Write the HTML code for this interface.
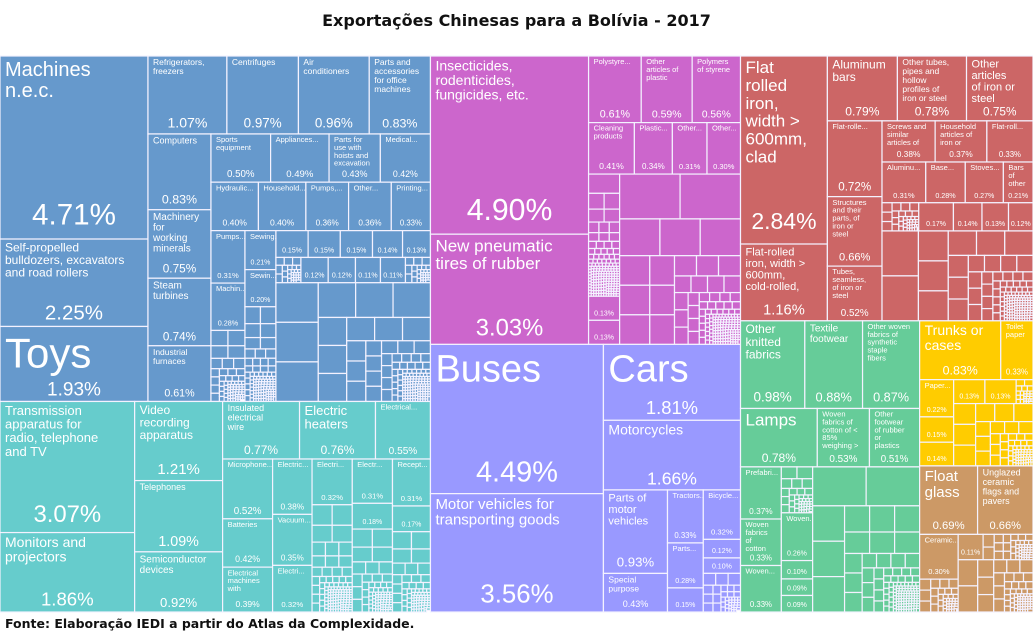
<!DOCTYPE html>
<html><head><meta charset="utf-8"><style>
html,body{margin:0;padding:0;background:#fff;}
body{width:1033px;height:635px;overflow:hidden;position:relative;font-family:"Liberation Sans",sans-serif;}
#title{position:absolute;left:0;top:11px;width:1033px;text-align:center;font-size:16px;font-weight:bold;color:#111;font-family:"DejaVu Sans","Liberation Sans",sans-serif;}
#source{position:absolute;left:5px;top:616px;font-size:12.5px;font-weight:bold;color:#111;font-family:"DejaVu Sans","Liberation Sans",sans-serif;}
svg{position:absolute;left:0;top:0;}
</style></head><body>
<div id="title">Exportações Chinesas para a Bolívia - 2017</div>
<svg id="tm" width="1033" height="635"></svg>
<div id="source">Fonte: Elaboração IEDI a partir do Atlas da Complexidade.</div>
<script>
// ---- data (values = share of exports, %) ----
const L=(n,v)=>({n:n,v:v});
const F=(v)=>({f:true,v:v});
const R=(...c)=>({d:'r',c:c});
const C=(...c)=>({d:'c',c:c});

const blueTree = R(
  C(L('Machines n.e.c.',4.71),L('Self-propelled bulldozers, excavators and road rollers',2.25),L('Toys',1.93)),
  C(R(L('Refrigerators, freezers',1.07),L('Centrifuges',0.97),L('Air conditioners',0.96),L('Parts and accessories for office machines',0.83)),
    R(C(L('Computers',0.83),L('Machinery for working minerals',0.75),L('Steam turbines',0.74),L('Industrial furnaces',0.61)),
      C(R(L('Sports equipment',0.50),L('Appliances...',0.49),L('Parts for use with hoists and excavation machinery',0.43),L('Medical...',0.42)),
        R(L('Hydraulic...',0.40),L('Household...',0.40),L('Pumps,...',0.36),L('Other...',0.36),L('Printing...',0.33)),
        R(C(L('Pumps...',0.31),L('Machin...',0.28),F(0.42)),
          C(L('Sewing...',0.21),L('Sewin...',0.20),F(0.51)),
          C(R(L('',0.15),L('',0.15),L('',0.15),L('',0.14),L('',0.13)),
            R(F(0.11),L('',0.12),L('',0.12),L('',0.11),L('',0.11),F(0.11)),
            F(3.19)))))));
const tealTree = R(
  C(L('Transmission apparatus for radio, telephone and TV',3.07),L('Monitors and projectors',1.86)),
  C(L('Video recording apparatus',1.21),L('Telephones',1.09),L('Semiconductor devices',0.92)),
  C(R(L('Insulated electrical wire',0.77),L('Electric heaters',0.76),L('Electrical...',0.55)),
    R(C(L('Microphone...',0.52),L('Batteries',0.42),L('Electrical machines with individua...',0.39)),
      C(L('Electric...',0.38),L('Vacuum...',0.35),L('Electri...',0.32)),
      R(C(L('Electri...',0.32),F(0.75)),C(L('Electr...',0.31),L('',0.18),F(0.58)),C(L('Recept...',0.31),L('',0.17),F(0.53))))));
const magTree = R(
  C(L('Insecticides, rodenticides, fungicides, etc.',4.90),L('New pneumatic tires of rubber',3.03)),
  C(R(L('Polystyre...',0.61),L('Other articles of plastic',0.59),L('Polymers of styrene',0.56)),
    R(L('Cleaning products',0.41),L('Plastic...',0.34),L('Other...',0.31),L('Other...',0.30)),
    R(C(F(0.66),L('',0.13),L('',0.13)),F(3.58))));
const lavTree = R(
  C(L('Buses',4.49),L('Motor vehicles for transporting goods',3.56)),
  C(L('Cars',1.81),L('Motorcycles',1.66),
    R(C(L('Parts of motor vehicles',0.93),L('Special purpose motor vehicles',0.43)),
      C(L('Tractors...',0.33),L('Parts...',0.28),L('',0.15)),
      C(L('Bicycle...',0.32),L('',0.12),L('',0.10),F(0.25)))));
const redTree = R(
  C(L('Flat rolled iron, width > 600mm, clad',2.84),L('Flat-rolled iron, width > 600mm, cold-rolled, not clad',1.16)),
  C(R(L('Aluminum bars',0.79),L('Other tubes, pipes and hollow profiles of iron or steel',0.78),L('Other articles of iron or steel',0.75)),
    R(C(L('Flat-rolle...',0.72),L('Structures and their parts, of iron or steel',0.66),L('Tubes, seamless, of iron or steel',0.52)),
      C(R(L('Screws and similar articles of iron o...',0.38),L('Household articles of iron or steel',0.37),L('Flat-roll...',0.33)),
        R(L('Aluminu...',0.31),L('Base...',0.28),L('Stoves...',0.27),L('Bars of other alloy steel',0.21)),
        R(F(0.18),L('',0.17),L('',0.14),L('',0.13),L('',0.12)),
        F(2.36)))));
const greenTree = C(
  R(L('Other knitted fabrics',0.98),L('Textile footwear',0.88),L('Other woven fabrics of synthetic staple fibers',0.87)),
  R(L('Lamps',0.78),L('Woven fabrics of cotton of < 85% weighing > 200 g/m2',0.53),L('Other footwear of rubber or plastics',0.51)),
  R(C(L('Prefabri...',0.37),L('Woven fabrics of cotton of < 85...',0.33),L('Woven...',0.33)),
    C(F(0.25),L('Woven...',0.26),L('',0.10),L('',0.09),L('',0.09)),
    F(2.70)));
const yellowTree = C(
  R(L('Trunks or cases',0.83),L('Toilet paper',0.33)),
  R(C(L('Paper...',0.22),L('',0.15),L('',0.14)),
    C(R(L('',0.13),L('',0.13),F(0.07)),F(0.86))));
const brownTree = C(
  R(L('Float glass',0.69),L('Unglazed ceramic flags and pavers',0.66)),
  R(C(L('Ceramic...',0.30),F(0.22)),C(R(L('',0.11),F(0.22)),F(0.68))));

const regions = [
  {t:blueTree, col:'#6699cc', name:'machinery'},
  {t:tealTree, col:'#66cccc', name:'electronics'},
  {t:magTree, col:'#cc66cc', name:'chemicals-plastics'},
  {t:lavTree, col:'#9999ff', name:'vehicles'},
  {t:redTree, col:'#cc6666', name:'metals'},
  {t:greenTree, col:'#66cc99', name:'textiles'},
  {t:yellowTree, col:'#ffcc00', name:'miscellaneous'},
  {t:brownTree, col:'#cc9966', name:'stone-glass'}
];
// top-level arrangement of regions
const sectorLayout = R(C(0,1),C(2,3),C(4,R(5,C(6,7))));

const nameSize={'Machines n.e.c.':20,'Toys':42,'Insecticides, rodenticides, fungicides, etc.':14,'New pneumatic tires of rubber':17,'Buses':38,'Cars':38,'Motor vehicles for transporting goods':15,'Motorcycles':14,'Transmission apparatus for radio, telephone and TV':13,'Monitors and projectors':14,'Video recording apparatus':12,'Flat rolled iron, width > 600mm, clad':17,'Flat-rolled iron, width > 600mm, cold-rolled, not clad':11,'Aluminum bars':12,'Other articles of iron or steel':11,'Other knitted fabrics':12,'Textile footwear':10,'Lamps':17,'Trunks or cases':14,'Float glass':15,'Electric heaters':13,'Self-propelled bulldozers, excavators and road rollers':12,'Parts of motor vehicles':11,'Unglazed ceramic flags and pavers':9,'Insulated electrical wire':9,'Machinery for working minerals':10,'Steam turbines':10,'Computers':9,'Telephones':9};

// ---- layout ----
const svgEl=document.getElementById('tm');
const NS='http://www.w3.org/2000/svg';
function sum(n){ if(typeof n==='number') return sum(regions[n].t); if(n.c) return n.c.reduce((a,b)=>a+sum(b),0); return n.v; }
function el(tag,attrs,parent){const e=document.createElementNS(NS,tag);for(const k in attrs)e.setAttribute(k,attrs[k]);(parent||svgEl).appendChild(e);return e;}
function cell(x,y,w,h,col,g){
  const r=el('rect',{x:x,y:y,width:Math.max(0,w),height:Math.max(0,h),fill:col,stroke:'#f4f2ff','stroke-width':1.2},g);
  
  
  return r;
}
function filler(x,y,w,h,s,col,g){
  if(w<3||h<3){cell(x,y,w,h,col,g);return;}
  if(w<=s*1.4&&h<=s*1.4){cell(x,y,w,h,col,g);return;}
  if(w>=h){
    const cw=Math.min(s,w); const n=Math.max(1,Math.round(h/(s*1.1)));
    for(let i=0;i<n;i++) cell(x,y+i*h/n,cw,h/n,col,g);
    if(w-cw>=2) filler(x+cw,y,w-cw,h,Math.max(2.5,s*0.82),col,g);
  } else {
    const ch=Math.min(s,h); const n=Math.max(1,Math.round(w/(s*1.1)));
    for(let i=0;i<n;i++) cell(x+i*w/n,y,w/n,ch,col,g);
    if(h-ch>=2) filler(x,y+ch,w,h-ch,Math.max(2.5,s*0.82),col,g);
  }
}
function wrap(text,maxW,fs){
  const words=text.split(' ');const lines=[];let cur='';
  for(const wd of words){const t=cur?cur+' '+wd:wd; if(t.length*fs*0.52>maxW&&cur){lines.push(cur);cur=wd;} else cur=t;}
  if(cur)lines.push(cur); return lines;
}
function leaf(n,x,y,w,h,col,g){
  if(n.f){ filler(x,y,w,h,Math.max(6,Math.sqrt(w*h)/3.2),col,g); return; }
  cell(x,y,w,h,col,g);
  const pfs=Math.max(7,Math.min(32,0.18*Math.sqrt(w*h)));
  const t=el('text',{x:x+w/2,y:y+h-Math.max(5,h*0.08),'text-anchor':'middle',fill:'#fff','font-size':pfs.toFixed(1),'font-family':'Liberation Sans, sans-serif'},g);
  t.textContent=n.v.toFixed(2)+'%';
  
  
  if(n.n && w>=28 && h>=28){
    let fs=nameSize[n.n]|| (w<60?7.5:(w<80?8.5:10));
    const lines=wrap(n.n,w-8,fs);
    const maxLines=Math.max(1,Math.floor((h-pfs-6)/(fs*1.05)));
    const tt=el('text',{x:x+5,y:y+fs*0.95+1,fill:'#fff','font-size':fs,'font-family':'Liberation Sans, sans-serif'},g);
    
    
    lines.slice(0,maxLines).forEach((ln,i)=>{const s=el('tspan',{x:x+5,dy:i?fs*1.05:0},tt);s.textContent=ln;});
  }
}
function lay(n,x,y,w,h,col,g){
  if(n.c){
    const tot=sum(n); let off=0;
    for(const ch of n.c){
      const f=sum(ch)/tot;
      if(n.d==='r'){lay(ch,x+off,y,w*f,h,col,g);off+=w*f;}
      else {lay(ch,x,y+off,w,h*f,col,g);off+=h*f;}
    }
  } else leaf(n,x,y,w,h,col,g);
}
function layTop(n,x,y,w,h){
  if(typeof n==='number'){
    const g=el('g',{});
    
    
    lay(regions[n].t,x,y,w,h,regions[n].col,g); return;
  }
  const tot=sum(n); let off=0;
  for(const ch of n.c){
    const f=sum(ch)/tot;
    if(n.d==='r'){layTop(ch,x+off,y,w*f,h);off+=w*f;}
    else {layTop(ch,x,y+off,w,h*f);off+=h*f;}
  }
}
layTop(sectorLayout,0,56,1033,556);
</script>
</body></html>
